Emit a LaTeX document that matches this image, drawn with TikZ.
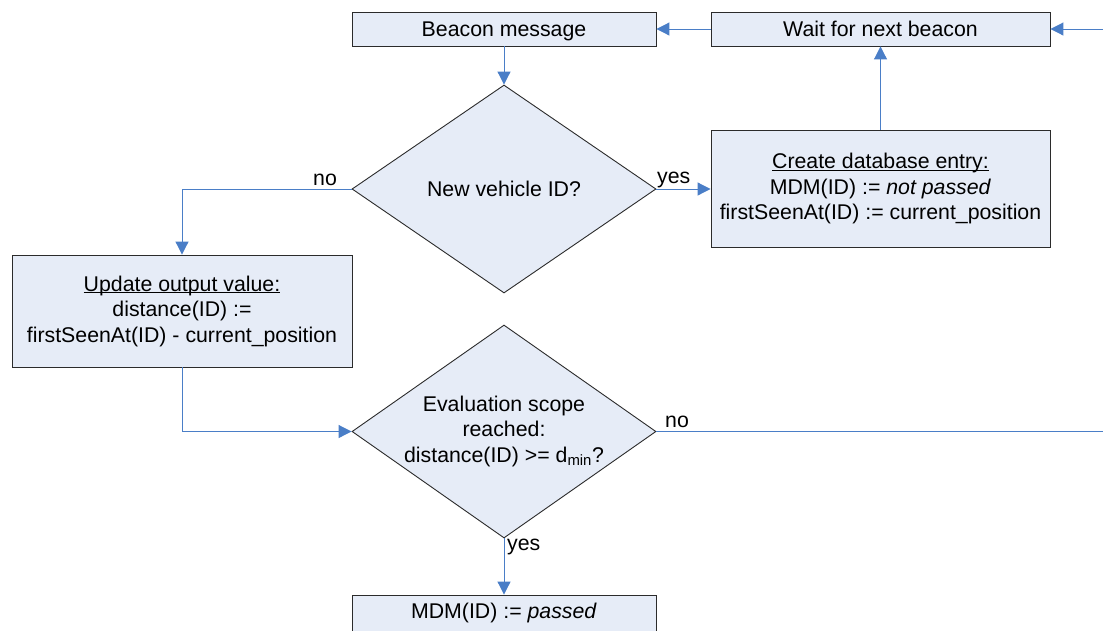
\documentclass[tikz,border=0pt]{standalone}
\usepackage{fontspec}
\setmainfont{Liberation Sans}
\usetikzlibrary{arrows.meta,shapes.geometric}
\definecolor{boxfill}{HTML}{E6ECF7}
\definecolor{arrowblue}{HTML}{4A7EC7}
\definecolor{edgecol}{HTML}{2B2B2B}
\newcommand{\ulhead}[1]{\underline{\smash{#1}}\vphantom{#1}}
\begin{document}
\begin{tikzpicture}[x=1pt,y=-1pt,
 every node/.style={font=\fontsize{21.3}{25.5}\selectfont},
 procbox/.style={draw=edgecol, fill=boxfill, line width=0.9pt, rectangle, inner sep=0pt, align=center},
 decision/.style={draw=edgecol, fill=boxfill, line width=0.9pt, diamond, inner sep=0pt, minimum width=304pt},
 flow/.style={draw=arrowblue, line width=1pt, -{Triangle[length=13pt,width=13pt]}},
 plainflow/.style={draw=arrowblue, line width=1pt},
 lbl/.style={inner sep=0pt, anchor=base west}]
\useasboundingbox (0,0) rectangle (1103,630);
\node[procbox, minimum width=304pt, minimum height=34pt, text depth=0pt] (beacon) at (504,29) {Beacon message};
\node[procbox, minimum width=339pt, minimum height=34pt] (wait) at (880.5,29) {Wait for next beacon};
\node[decision, minimum height=208pt] (newid) at (504,189) {};
\node[align=center] (newidtxt) at (newid) {New vehicle ID?};
\node[procbox, minimum width=339pt, minimum height=117pt] (create) at (880.5,188.5) {\ulhead{Create database entry:}\\MDM(ID) := \textit{not passed}\\firstSeenAt(ID) := current\_position};
\node[procbox, minimum width=340pt, minimum height=112pt] (update) at (182,311) {\ulhead{Update output value:}\\distance(ID) :=\\firstSeenAt(ID) - current\_position};
\node[decision, minimum height=213pt] (scope) at (504,431.5) {};
\node[align=center] (scopetxt) at (504,431) {Evaluation scope\\reached:\\distance(ID) >= d\textsubscript{min}?};
\node[procbox, minimum width=304pt, minimum height=36pt] (mdm) at (504,613) {MDM(ID) := \textit{passed}};
\coordinate (inR) at (1103,29);
\coordinate (outR) at (1103,431.5);
\draw[flow] (inR) -- (wait.east);
\draw[flow] (wait.west) -- (beacon.east);
\draw[flow] (beacon.south) -- (newid.north);
\draw[flow] (create.north) -- (wait.south);
\draw[flow] (newid.east) -- (newid.east -| create.west);
\draw[flow] (newid.west) -| (update.north);
\draw[flow] (update.south) |- (scope.west);
\draw[plainflow] (scope.east) -- (outR);
\draw[flow] (scope.south) -- (mdm.north);
\node[lbl] (no1) at (313,185) {no};
\node[lbl] (yes1) at (657,183) {yes};
\node[lbl] (no2) at (665,427) {no};
\node[lbl] (yes2) at (507,550) {yes};
\end{tikzpicture}
\end{document}
